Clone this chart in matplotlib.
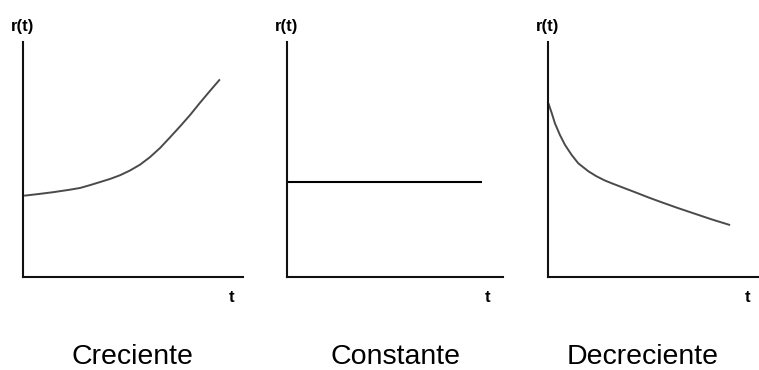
import numpy as np
import matplotlib.pyplot as plt

plt.rcParams['font.family'] = ['Liberation Sans', 'DejaVu Sans']

# === Data (t and r(t) in arbitrary units 0-10) ===
t_crec = [0.05, 0.7, 1.38, 2.1, 2.6, 3.05, 3.5, 3.95, 4.41, 4.86, 5.32,
          5.77, 6.23, 6.68, 7.14, 7.6, 8.05, 8.5, 8.95]
r_crec = [3.46, 3.53, 3.61, 3.71, 3.79, 3.91, 4.04, 4.17, 4.33, 4.53, 4.78,
          5.10, 5.49, 5.94, 6.41, 6.90, 7.42, 7.92, 8.41]

t_const = [0.0, 9.03]
r_const = [4.04, 4.04]

t_decr = [0.02, 0.18, 0.33, 0.57, 0.81, 1.13, 1.44, 1.92, 2.3, 2.7, 3.03,
          3.67, 4.14, 4.8, 5.41, 6.2, 7.0, 7.8, 8.67]
r_decr = [7.39, 6.97, 6.54, 6.04, 5.62, 5.19, 4.84, 4.50, 4.29, 4.11, 3.99,
          3.77, 3.61, 3.38, 3.18, 2.93, 2.69, 2.45, 2.21]

titles = ["Creciente", "Constante", "Decreciente"]

W, H = 759, 370
fig = plt.figure(figsize=(W / 100, H / 100), dpi=100)

# axes boxes in pixels: (left, right), top=42, bottom=277
boxes = [(23, 243), (287, 503), (548, 758)]
title_x = [132, 396, 643]
t_label_x = [231.5, 488, 748]
series = [(t_crec, r_crec, '#4a4a4a', 1.4),
          (t_const, r_const, 'black', 1.5),
          (t_decr, r_decr, '#4a4a4a', 1.4)]

top, bottom = 42, 277
for (x0, x1), (tt, rr, col, lw), tx in zip(boxes, series, t_label_x):
    ax = fig.add_axes([x0 / W, 1 - bottom / H, (x1 - x0) / W, (bottom - top) / H])
    ax.plot(tt, rr, color=col, lw=lw, solid_capstyle='butt', solid_joinstyle='round')
    ax.set_xlim(0, 10)
    ax.set_ylim(0, 10)
    for s in ['top', 'right']:
        ax.spines[s].set_visible(False)
    for s in ['left', 'bottom']:
        ax.spines[s].set_linewidth(1.5)
        ax.spines[s].set_color('#111111')
    ax.set_xticks([])
    ax.set_yticks([])
    ax.patch.set_alpha(0)

    fig.text(x0 / W, 1 - 27 / H, "r(t)", ha='center', va='center',
             fontsize=12, fontweight='bold')
    fig.text(tx / W, 1 - 302 / H, "t", ha='center', va='baseline',
             fontsize=12, fontweight='bold')

for name, cx in zip(titles, title_x):
    fig.text(cx / W, 1 - 364 / H, name, ha='center', va='baseline', fontsize=20.5)

fig.savefig("out.png", dpi=100)
